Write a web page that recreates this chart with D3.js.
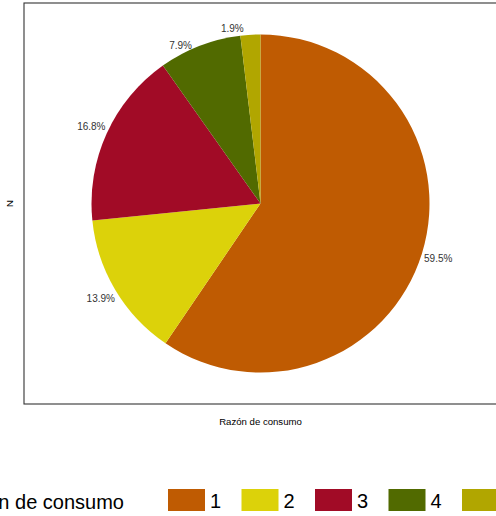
<!DOCTYPE html>
<html>
<head>
<meta charset="utf-8">
<script src="https://cdn.jsdelivr.net/npm/d3@7"></script>
<style>
  body { margin: 0; background: #fff; }
  svg { display: block; font-family: "Liberation Sans", Arial, sans-serif; }
</style>
</head>
<body>
<script>
// data
var categories = ["1", "2", "3", "4", "5"];
var shares = [59.5, 13.9, 16.8, 7.9, 1.9];
var colors = ["#bf5b02", "#dcd20a", "#a10b26", "#516a00", "#b1a600"];
var legendTitle = "Razón de consumo";
var xTitle = "Razón de consumo";
var yTitle = "N";

var width = 496, height = 516;
var panel = {left: 24, top: 3, right: 497, bottom: 404};

var svg = d3.select("body").append("svg")
  .attr("width", width)
  .attr("height", height);

var cx = (panel.left + panel.right) / 2,
    cy = (panel.top + panel.bottom) / 2,
    radius = 169;

var data = categories.map(function(c, i){ return {cat: c, value: shares[i]}; });

var pie = d3.pie().sort(null).value(function(d){ return d.value; });
var arc = d3.arc().innerRadius(0).outerRadius(radius);

var color = d3.scaleOrdinal().domain(categories).range(colors);

var g = svg.append("g").attr("transform", "translate(" + cx + "," + cy + ")");

var arcs = pie(data);

g.selectAll("path.slice")
  .data(arcs)
  .enter()
  .append("path")
  .attr("class", "slice")
  .attr("d", arc)
  .attr("fill", function(d){ return color(d.data.cat); });

// labels sit just outside the rim; small neighbouring slices get pushed apart
function labelPos(d, i){
  var a = (d.startAngle + d.endAngle) / 2;
  var r = radius * 1.1;
  var span = d.endAngle - d.startAngle;
  if (span < 0.6) {           // thin slices: repel a little
    a -= 0.1;
    r = radius * 1.05;
  }
  return [Math.sin(a) * r, -Math.cos(a) * r];
}

g.selectAll("text.lbl")
  .data(arcs)
  .enter()
  .append("text")
  .attr("class", "lbl")
  .attr("transform", function(d, i){ return "translate(" + labelPos(d, i) + ")"; })
  .attr("text-anchor", "middle")
  .attr("dy", "0.35em")
  .attr("font-size", 10)
  .attr("fill", "#333")
  .text(function(d){ return d.data.value.toFixed(1) + "%"; });

// panel border
svg.append("rect")
  .attr("x", panel.left)
  .attr("y", panel.top)
  .attr("width", panel.right - panel.left)
  .attr("height", panel.bottom - panel.top)
  .attr("fill", "none")
  .attr("stroke", "#333")
  .attr("stroke-width", 1.1);

// axis titles
svg.append("text")
  .attr("x", cx)
  .attr("y", 425)
  .attr("text-anchor", "middle")
  .attr("font-size", 9.6)
  .attr("fill", "#000")
  .text(xTitle);

svg.append("text")
  .attr("transform", "translate(13," + cy + ") rotate(-90)")
  .attr("text-anchor", "middle")
  .attr("font-size", 9.6)
  .attr("fill", "#000")
  .text(yTitle);

// legend
var legend = svg.append("g");
legend.append("text")
  .attr("x", 124)
  .attr("y", 509)
  .attr("text-anchor", "end")
  .attr("font-size", 20)
  .attr("fill", "#000")
  .text(legendTitle);

var keyX = d3.scalePoint().domain(categories).range([168, 462]);

var keys = legend.selectAll("g.key")
  .data(categories)
  .enter()
  .append("g")
  .attr("class", "key")
  .attr("transform", function(d){ return "translate(" + keyX(d) + ",489)"; });

keys.append("rect")
  .attr("width", 37)
  .attr("height", 22)
  .attr("fill", function(d){ return color(d); });

keys.append("text")
  .attr("x", 42)
  .attr("y", 19)
  .attr("font-size", 20)
  .attr("fill", "#000")
  .text(function(d){ return d; });
</script>
</body>
</html>
